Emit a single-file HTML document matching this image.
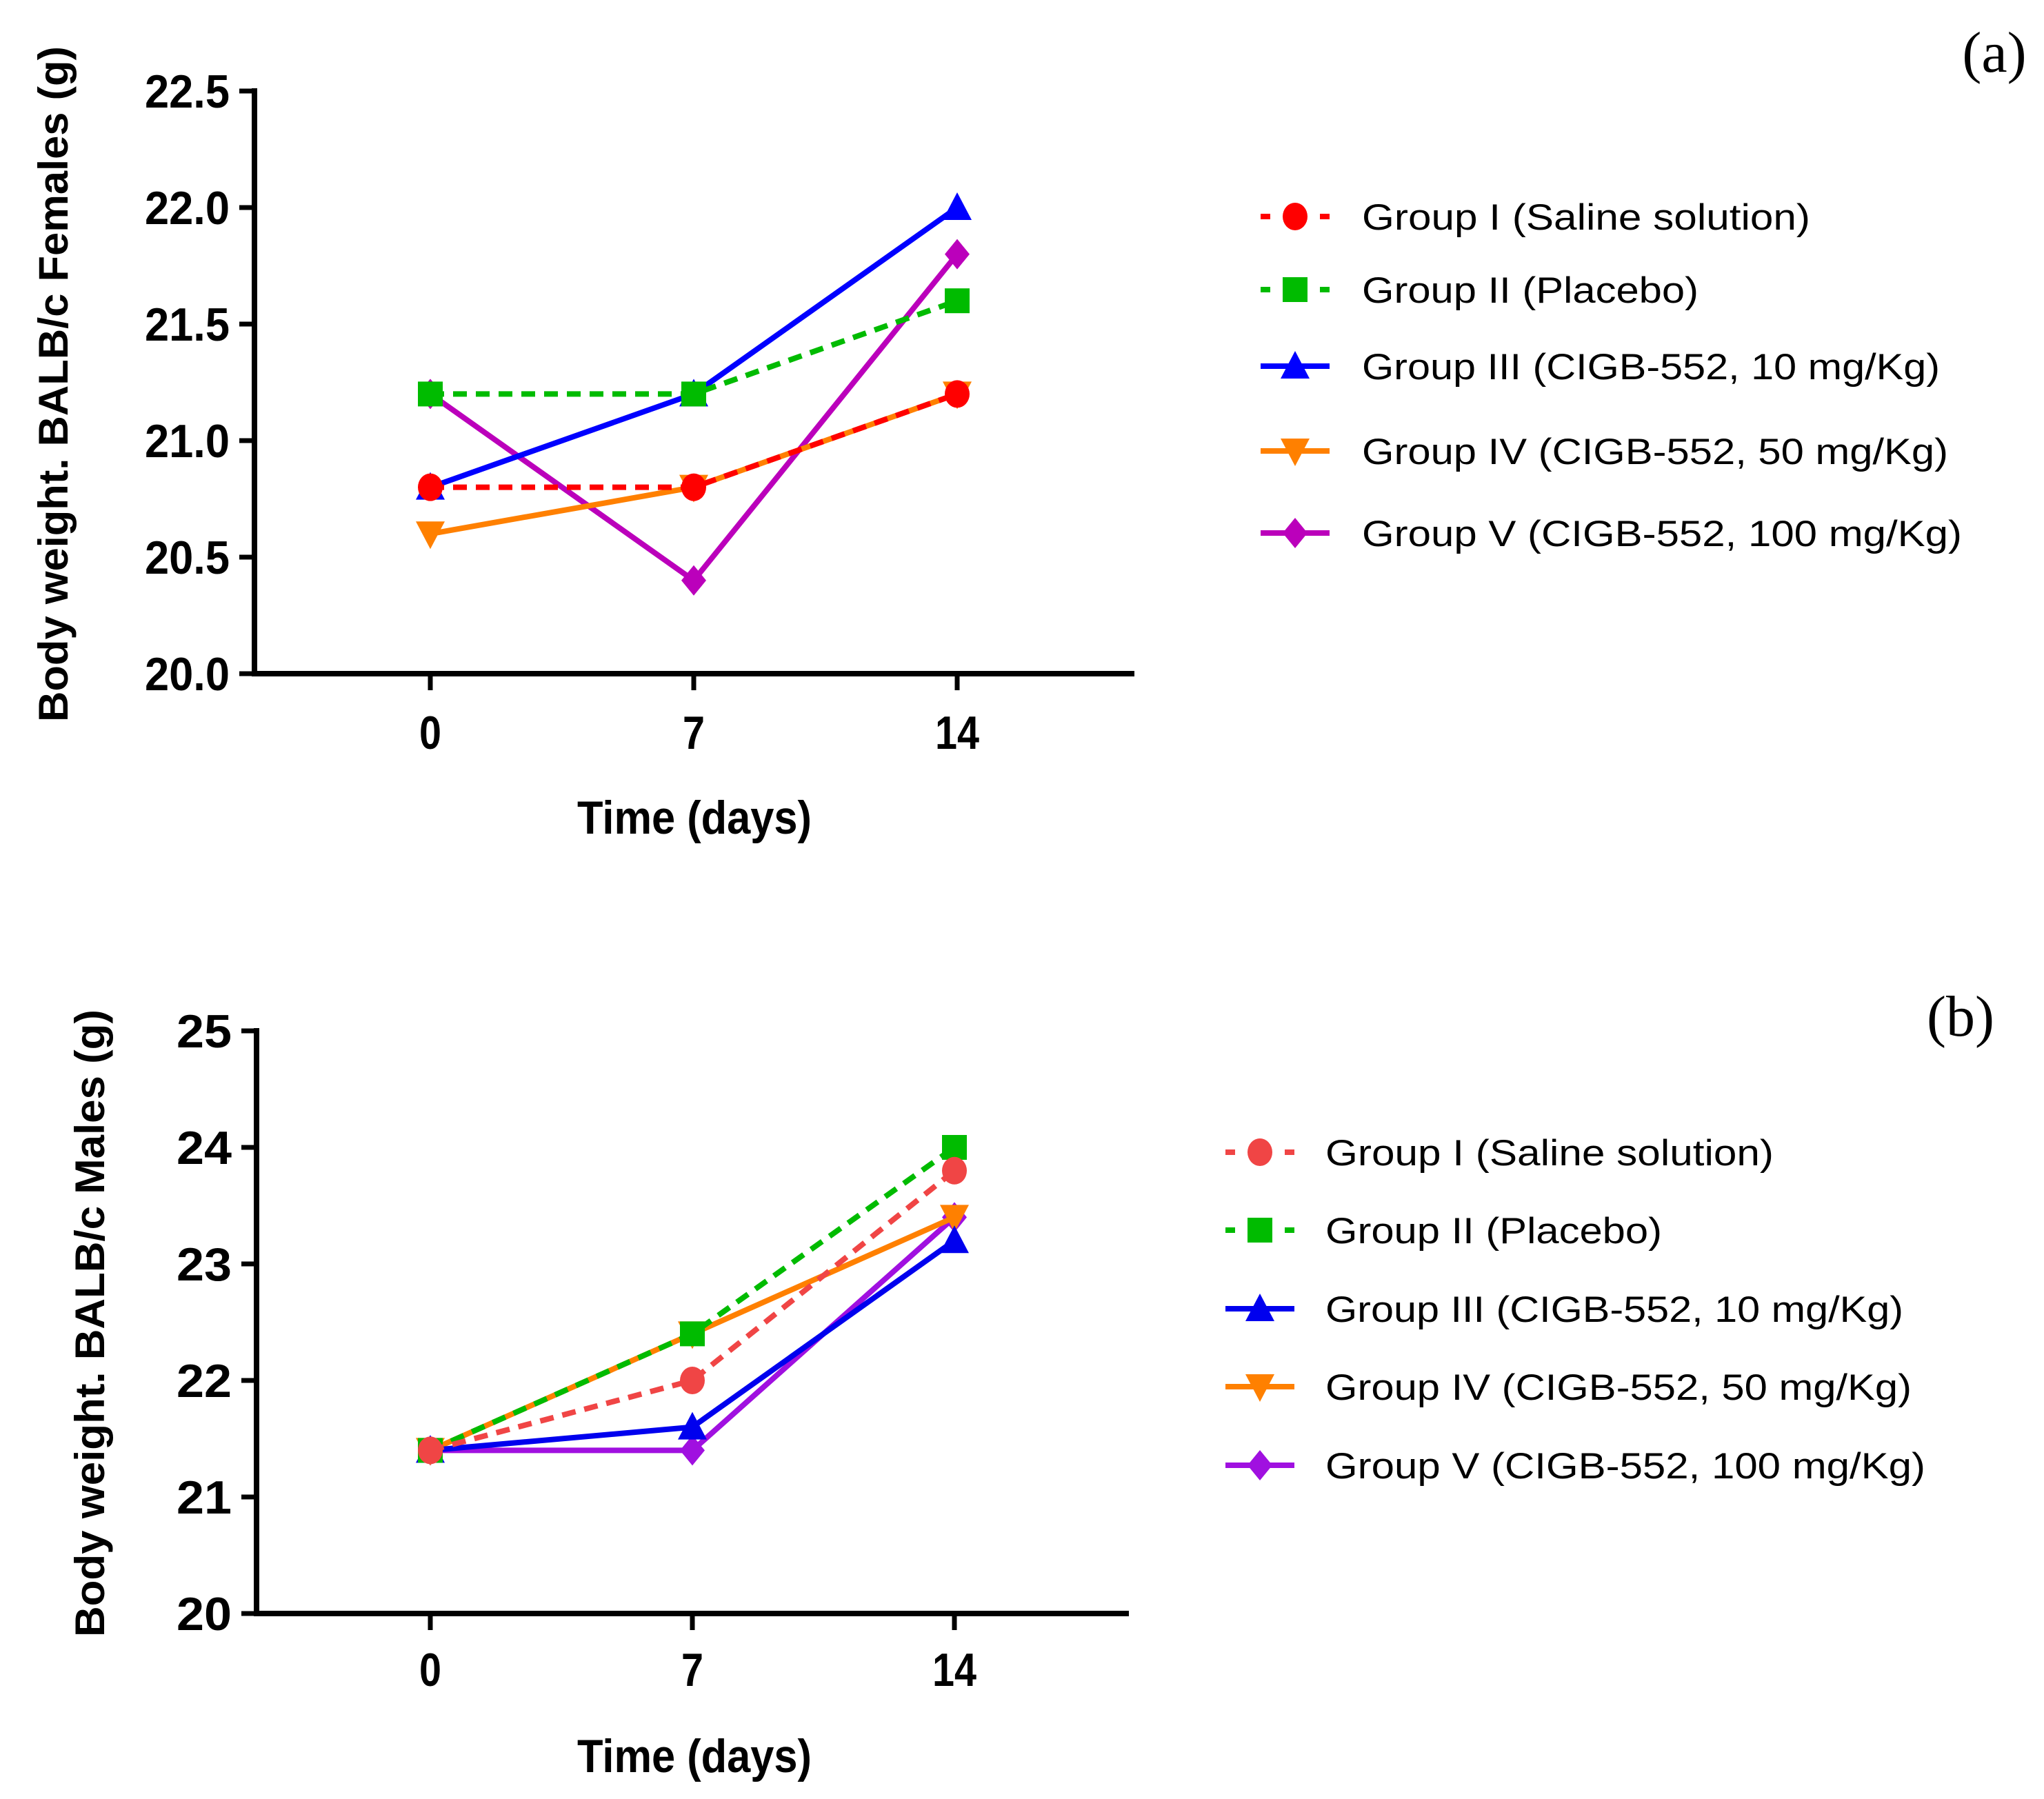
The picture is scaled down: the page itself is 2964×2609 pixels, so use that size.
<!DOCTYPE html>
<html><head><meta charset="utf-8"><style>
html,body{margin:0;padding:0;background:#fff;}
svg{display:block;}
text{font-family:"Liberation Sans",sans-serif;}
</style></head><body>
<svg id="fig" xmlns="http://www.w3.org/2000/svg" width="2964" height="2609" viewBox="0 0 2964 2609"></svg>
<script>
const days = [0, 7, 14];
const groupNames = ["Group I (Saline solution)","Group II (Placebo)","Group III (CIGB-552, 10 mg/Kg)","Group IV (CIGB-552, 50 mg/Kg)","Group V (CIGB-552, 100 mg/Kg)"];
const femI = [20.8, 20.8, 21.2];
const femII = [21.2, 21.2, 21.6];
const femIII = [20.8, 21.2, 22.0];
const femIV = [20.6, 20.8, 21.2];
const femV = [21.2, 20.4, 21.8];
const maleI = [21.4, 22.0, 23.8];
const maleII = [21.4, 22.4, 24.0];
const maleIII = [21.4, 21.6, 23.2];
const maleIV = [21.4, 22.4, 23.4];
const maleV = [21.4, 21.4, 23.4];
const femTicks = [20.0, 20.5, 21.0, 21.5, 22.0, 22.5];
const femTickLabels = ["20.0","20.5","21.0","21.5","22.0","22.5"];
const maleTicks = [20, 21, 22, 23, 24, 25];
const maleTickLabels = ["20","21","22","23","24","25"];

const NS = "http://www.w3.org/2000/svg";
const svg = document.getElementById('fig');
function mk(tag, attrs, parent){const e=document.createElementNS(NS,tag);for(const k in attrs)e.setAttribute(k,attrs[k]);(parent||svg).appendChild(e);return e;}

function marker(g, shape, cx, cy, color, name){
  let e;
  const s=18;
  if(shape==='circle') e=mk('ellipse',{cx:cx,cy:cy,rx:s,ry:s+2,fill:color},g);
  else if(shape==='square') e=mk('rect',{x:cx-s,y:cy-s,width:2*s,height:2*s,fill:color},g);
  else if(shape==='tri') e=mk('polygon',{points:`${cx},${cy-s-4} ${cx+s+3},${cy+s} ${cx-s-3},${cy+s}`,fill:color},g);
  else if(shape==='itri') e=mk('polygon',{points:`${cx},${cy+s+4} ${cx+s+3},${cy-s} ${cx-s-3},${cy-s}`,fill:color},g);
  else e=mk('polygon',{points:`${cx},${cy-s-4} ${cx+s},${cy} ${cx},${cy+s+4} ${cx-s},${cy}`,fill:color},g);
  
  
}

function chart(cfg){
  const g=mk('g',{});
  
  
  const X0=cfg.ax, Y0=cfg.yBot, Y1=cfg.yTop;
  const xs=v=>cfg.xt[0]+(cfg.xt[2]-cfg.xt[0])*(v/14);
  const ys=v=>Y0-(v-cfg.min)/(cfg.max-cfg.min)*(Y0-Y1);
  const ya=mk('line',{x1:X0,y1:Y1-4,x2:X0,y2:Y0+4,stroke:'#000','stroke-width':8},g);
  
  
  const xa=mk('line',{x1:X0-4,y1:Y0,x2:cfg.xEnd,y2:Y0,stroke:'#000','stroke-width':8},g);
  
  
  cfg.ticks.forEach((t,i)=>{
    const y=ys(t);
    mk('line',{x1:X0-22,y1:y,x2:X0,y2:y,stroke:'#000','stroke-width':7},g);
    const lab=cfg.tickLabels[i];
    const w=lab.length===4?123:80;
    const tx=mk('text',{x:X0-36-w,y:y+24,'font-size':68,'font-weight':'bold',textLength:w,lengthAdjust:'spacingAndGlyphs'},g);
    tx.textContent=lab;
    
    
  });
  days.forEach(d=>{
    const x=xs(d);
    mk('line',{x1:x,y1:Y0,x2:x,y2:Y0+24,stroke:'#000','stroke-width':7},g);
    const lab=String(d);
    const w=lab.length===2?64:32;
    const tx=mk('text',{x:x-w/2,y:cfg.xlabY+24,'font-size':68,'font-weight':'bold',textLength:w,lengthAdjust:'spacingAndGlyphs'},g);
    tx.textContent=lab;
    
    
  });
  const xt=mk('text',{x:cfg.xTitleX-170,y:cfg.xTitleY+24,'font-size':68,'font-weight':'bold',textLength:340,lengthAdjust:'spacingAndGlyphs'},g);
  xt.textContent='Time (days)';
  
  
  const yt=mk('text',{x:-cfg.yTitleLen/2,y:0,'font-size':60,'font-weight':'bold',textLength:cfg.yTitleLen,lengthAdjust:'spacingAndGlyphs',transform:`translate(${cfg.yTitleX+22} ${cfg.yTitleY}) rotate(-90)`},g);
  yt.textContent=cfg.yTitle;
  
  
  const pl=mk('text',{x:cfg.panelX,y:cfg.panelY+28,'text-anchor':'middle','font-size':84},g);
  pl.style.fontFamily='"Liberation Serif", serif';
  pl.textContent=cfg.panel;
  
  
  for(let s=4;s>=0;s--){
    const vals=cfg.series[s];
    const pts=vals.map((v,i)=>`${xs(days[i])},${ys(v)}`).join(' ');
    const attrs={points:pts,fill:'none',stroke:cfg.colors[s],'stroke-width':8,'stroke-linejoin':'round'};
    if(s<2) attrs['stroke-dasharray']='20 13';
    const pline=mk('polyline',attrs,g);
    
    
    vals.forEach((v,i)=>marker(g,cfg.shapes[s],xs(days[i]),ys(v),cfg.colors[s],'point-group-'+(s+1)));
  }
  groupNames.forEach((nm,s)=>{
    const lg=mk('g',{},g);
    
    
    const y=cfg.legY[s], lx=cfg.legX;
    const la={x1:lx,y1:y,x2:lx+100,y2:y,stroke:cfg.colors[s],'stroke-width':8};
    if(s<2) la['stroke-dasharray']='14 29 14 29';
    mk('line',la,lg);
    marker(lg,cfg.shapes[s],lx+50,y,cfg.colors[s],'legend-marker');
    const t=mk('text',{x:cfg.legTX,y:y+19,'font-size':53,textLength:cfg.legW[s],lengthAdjust:'spacingAndGlyphs'},lg);
    t.textContent=nm;
  });
}

const shapes=['circle','square','tri','itri','diamond'];
chart({id:'females',ax:369,yBot:977,yTop:132,xEnd:1645,xt:[624,1006,1388],min:20,max:22.5,
  ticks:femTicks,tickLabels:femTickLabels,xlabY:1062,xTitleX:1007,xTitleY:1185,
  yTitle:'Body weight. BALB/c Females (g)',yTitleLen:980,yTitleX:76,yTitleY:557,panel:'(a)',panelX:2892,panelY:76,
  series:[femI,femII,femIII,femIV,femV],colors:['#ff0000','#00bb00','#0000ff','#ff8000','#bb00bb'],shapes:shapes,
  legY:[314,420,531,654,773],legX:1828,legTX:1975,legW:[650,488,838,850,870]});
chart({id:'males',ax:372,yBot:2340,yTop:1495,xEnd:1637,xt:[624,1004,1384],min:20,max:25,
  ticks:maleTicks,tickLabels:maleTickLabels,xlabY:2421,xTitleX:1007,xTitleY:2546,
  yTitle:'Body weight. BALB/c Males (g)',yTitleLen:910,yTitleX:129,yTitleY:1919,panel:'(b)',panelX:2843,panelY:1474,
  series:[maleI,maleII,maleIII,maleIV,maleV],colors:['#f04545','#00bb00','#0000ee','#ff8000','#a010e0'],shapes:shapes,
  legY:[1671,1784,1898,2011,2125],legX:1777,legTX:1922,legW:[650,488,838,850,870]});
</script>
</body></html>
